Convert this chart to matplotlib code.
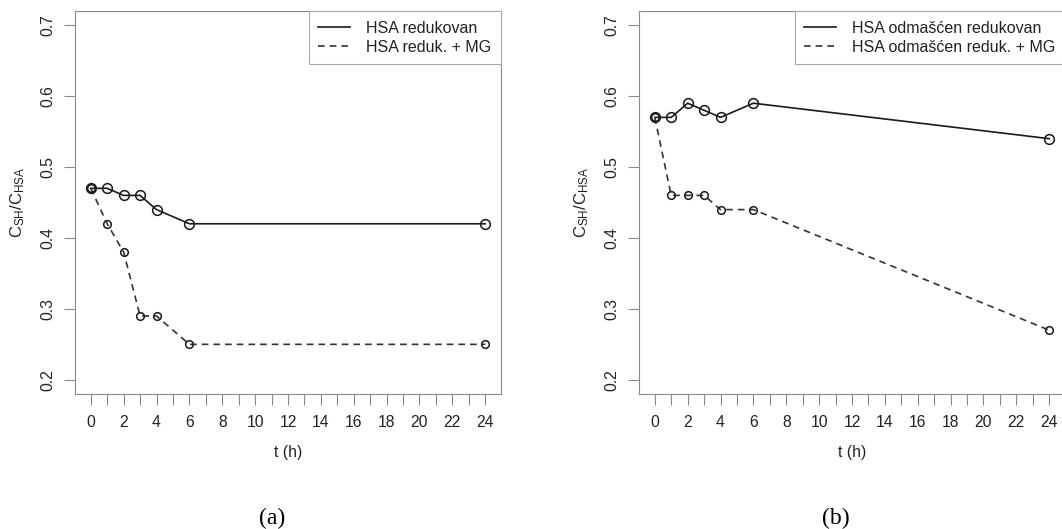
import numpy as np
import matplotlib
matplotlib.use("Agg")
import matplotlib.pyplot as plt
from matplotlib.lines import Line2D

plt.rcParams['font.family'] = ['Liberation Sans', 'DejaVu Sans']
plt.rcParams['mathtext.fontset'] = 'custom'
plt.rcParams['mathtext.rm'] = 'Liberation Sans'
plt.rcParams['mathtext.it'] = 'Liberation Sans'

# Podaci (procijenjeni s grafikona)
t = [0, 1, 2, 3, 4, 6, 24]
a_red = [0.47, 0.47, 0.46, 0.46, 0.44, 0.42, 0.42]
a_mg = [0.47, 0.42, 0.38, 0.29, 0.29, 0.25, 0.25]
b_red = [0.57, 0.57, 0.59, 0.58, 0.57, 0.59, 0.54]
b_mg = [0.57, 0.46, 0.46, 0.46, 0.44, 0.44, 0.27]

labels_a = ['HSA redukovan', 'HSA reduk. + MG']
labels_b = ['HSA odmašćen redukovan', 'HSA odmašćen reduk. + MG']
captions = ['(a)', '(b)']
yticks = [0.2, 0.3, 0.4, 0.5, 0.6, 0.7]
xticks = list(range(0, 25))

W, H = 1062, 529
fig = plt.figure(figsize=(W / 100, H / 100), dpi=100)

frame_col = '#8a8a8a'
text_col = '#222222'
dash = (0, (4, 3))

def panel(left_px, red, mg, labels, caption):
    ax = fig.add_axes([left_px / W, 1 - 394 / H, 426 / W, 383 / H])
    ax.plot(t, red, color='#1a1a1a', lw=1.2, marker='o', ms=7,
            mfc='none', mec='#1a1a1a', mew=1.1)
    ax.plot(t, mg, color='#333333', lw=1.2, ls=dash, marker='o', ms=5.5,
            mfc='none', mec='#1a1a1a', mew=1.1)
    ax.set_xlim(-0.96, 24.96)
    ax.set_ylim(0.18, 0.72)
    ax.set_xticks(xticks)
    ax.set_xticklabels([str(x) if x % 2 == 0 else '' for x in xticks])
    ax.set_yticks(yticks)
    ax.set_yticklabels([f'{y:.1f}' for y in yticks], rotation=90, va='center')
    ax.tick_params(axis='both', length=8, width=0.8, color=frame_col,
                   labelsize=11.3, labelcolor=text_col)
    ax.tick_params(axis='x', pad=7)
    ax.tick_params(axis='y', pad=6)
    for s in ax.spines.values():
        s.set_color(frame_col)
        s.set_linewidth(0.8)
    ax.set_xlabel('t (h)', fontsize=11.3, color=text_col)
    ax.xaxis.set_label_coords(0.5, -58 / 383)
    ax.xaxis.label.set_va('center')
    ax.set_ylabel(r'$\mathregular{C_{SH}/C_{HSA}}$', fontsize=12, color=text_col)
    ax.yaxis.set_label_coords(-57 / 426, 0.5)
    ax.yaxis.label.set_va('center')
    handles = [Line2D([], [], color='#1a1a1a', lw=1.2),
               Line2D([], [], color='#333333', lw=1.2, ls=dash)]
    leg = ax.legend(handles, labels, loc='upper right', bbox_to_anchor=(1, 1),
                    borderaxespad=0, fancybox=False, framealpha=1,
                    edgecolor='#aaaaaa', fontsize=11.5, handlelength=2.0,
                    handletextpad=1.0, labelspacing=0.25, borderpad=0.6)
    leg.get_frame().set_linewidth(0.8)
    for txt in leg.get_texts():
        txt.set_color(text_col)
    fig.text((left_px + 197) / W, 1 - 518 / H, caption, ha='center', va='center',
             family='Liberation Serif', fontsize=17, color='black')
    return ax

panel(75, a_red, a_mg, labels_a, captions[0])
panel(639, b_red, b_mg, labels_b, captions[1])

fig.savefig('out.png', dpi=100)
